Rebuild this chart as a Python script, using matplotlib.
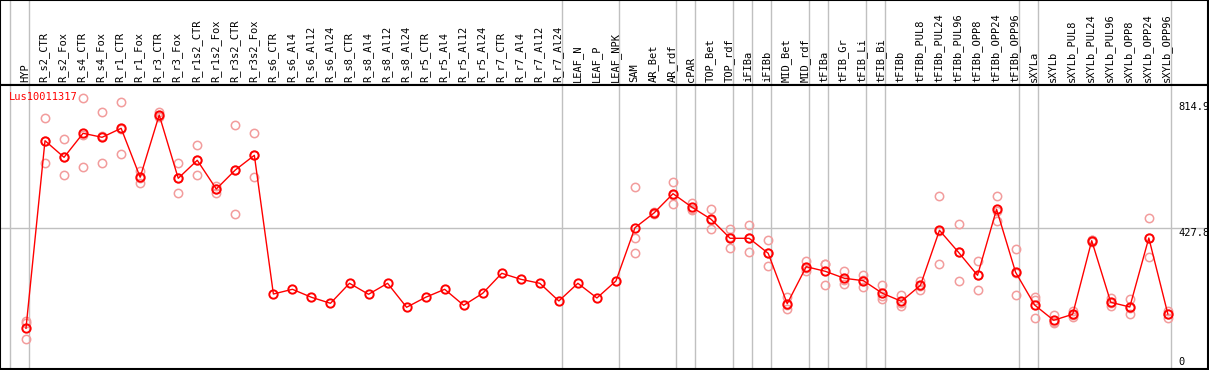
import numpy as np
import matplotlib
matplotlib.use("Agg")
import matplotlib.pyplot as plt

samples = ["HYP", "R_s2_CTR", "R_s2_Fox", "R_s4_CTR", "R_s4_Fox", "R_r1_CTR", "R_r1_Fox",
           "R_r3_CTR", "R_r3_Fox", "R_r1s2_CTR", "R_r1s2_Fox", "R_r3s2_CTR", "R_r3s2_Fox",
           "R_s6_CTR", "R_s6_Al4", "R_s6_Al12", "R_s6_Al24", "R_s8_CTR", "R_s8_Al4", "R_s8_Al12",
           "R_s8_Al24", "R_r5_CTR", "R_r5_Al4", "R_r5_Al12", "R_r5_Al24", "R_r7_CTR", "R_r7_Al4",
           "R_r7_Al12", "R_r7_Al24", "LEAF_N", "LEAF_P", "LEAF_NPK", "SAM", "AR_Bet", "AR_rdf",
           "cPAR", "TOP_Bet", "TOP_rdf", "iFIBa", "iFIBb", "MID_Bet", "MID_rdf", "tFIBa",
           "tFIB_Gr", "tFIB_Li", "tFIB_Bi", "tFIBb", "tFIBb_PUL8", "tFIBb_PUL24", "tFIBb_PUL96",
           "tFIBb_OPP8", "tFIBb_OPP24", "tFIBb_OPP96", "sXYLa", "sXYLb", "sXYLb_PUL8",
           "sXYLb_PUL24", "sXYLb_PUL96", "sXYLb_OPP8", "sXYLb_OPP24", "sXYLb_OPP96"]

# mean expression
mean = [107.6, 706.6, 653.6, 730.3, 717.5, 746.2, 589.8, 788.7, 586.6, 644.1, 552.4, 613.1, 660.0,
        217.1, 232.1, 206.6, 187.4, 251.3, 216.2, 251.3, 174.7, 206.6, 232.1, 181.0, 219.4,
        283.2, 264.1, 251.3, 194.8,
        251.3, 204.4, 258.7,
        428.8, 475.8, 537.4, 494.0, 455.7, 395.0, 395.0, 347.1, 186.2, 304.3, 289.6, 267.3,
        259.6, 219.4, 193.8,
        244.9, 420.5, 350.3, 276.8, 487.6, 286.4, 182.0, 133.2, 152.3, 387.3, 190.6, 175.6,
        396.0, 153.3]

nan = np.nan
no_reps = [nan] * 19  # R_s6_CTR .. LEAF_NPK have no replicates

rep_a = ([130.9, 778.2, 711.1, 843.0, 797.3, 831.2, 609.9, 799.2, 634.5, 692.0, 563.0, 755.8, 730.3]
         + no_reps +
         [557.8, 480.0, 573.8, 506.8, 487.6, 423.7, 437.5, 388.6, 208.5, 322.5, 312.0, 290.6,
          276.8, 244.9, 213.0, 259.6, 530.1, 440.7, 321.5, 530.1, 360.8, 208.5, 149.1, 163.8,
          391.0, 203.4, 201.2, 458.9, 163.8])
rep_b = ([124.5, 634.5, 596.2, 621.7, 634.5, 664.2, 570.6, 782.3, 538.7, 596.2, 540.6, 471.6, 589.8]
         + no_reps +
         [395.0, 472.0, 503.6, 485.4, 425.6, 363.1, 350.3, 305.6, 168.3, 290.6, 244.9, 249.1,
          240.4, 202.1, 179.8, 230.9, 312.0, 258.7, 229.9, 449.3, 213.9, 139.5, 123.6, 144.6,
          384.0, 179.8, 153.3, 334.3, 141.5])
rep_c = ([73.4, 707.1, 653.5, 726.2, 720.7, 743.2, 588.9, 784.6, 586.6, 644.1, 553.6, 611.9, 659.9]
         + no_reps +
         [347.1, 476.0, 534.8, 490.0, 453.9, 398.2, 397.2, 347.1, 181.8, 299.8, 311.9, 262.2,
          261.6, 211.2, 188.6, 244.2, 419.4, 351.5, 279.0, 483.4, 284.5, 198.0, 126.9, 148.5,
          389.0, 188.6, 172.3, 394.8, 154.6])

group_starts = [0, 1, 29, 32, 35, 36, 38, 39, 40, 42, 43, 45, 46, 53, 54, 61]
y_ticks = [0, 427.8, 814.9]
gene = "Lus10011317"

mono = "DejaVu Sans Mono"
grey = "#c0c0c0"
fs = 7.5
x = np.arange(len(samples))

fig = plt.figure(figsize=(12.09, 3.70), dpi=100)
ax_head = fig.add_axes([0, 285 / 370, 1208 / 1209, 85 / 370])
ax = fig.add_axes([0, 1 / 370, 1208 / 1209, 284 / 370], sharex=ax_head)

for a in (ax_head, ax):
    a.set_xticks([])
    a.set_yticks([])
    for s in a.spines.values():
        s.set_color("black")
        s.set_linewidth(1.5)
    for k in group_starts:
        a.axvline(k - 0.84, color=grey, lw=1, zorder=0)

ax.set_xlim(-1.365, 62.11)
ax.set_ylim(-22.4, 884.5)
ax_head.set_ylim(0, 1)

for i, name in enumerate(samples):
    ax_head.text(i - 0.05, 0.03, name, rotation=90, ha="center", va="bottom",
                 family=mono, fontsize=fs)

ax.axhline(427.8, color=grey, lw=1, zorder=0)

for reps in (rep_a, rep_b, rep_c):
    ax.plot(x, reps, ls="none", marker="o", ms=6, mfc="none", mec="#f29c9c", mew=1.1, zorder=2)
ax.plot(x, mean, color="red", lw=1, marker="o", ms=6, mfc="none", mec="red", mew=1.4, zorder=3)

tr = ax.get_yaxis_transform()
ax.text(0.9752, y_ticks[2], "814.9", transform=tr, ha="left", va="center", family=mono, fontsize=fs)
ax.text(0.9752, y_ticks[1], "427.8", transform=tr, ha="left", va="top", family=mono, fontsize=fs)
ax.text(0.9752, y_ticks[0], "0", transform=tr, ha="left", va="center", family=mono, fontsize=fs)

fig.text(9 / 1209, 1 - 97 / 370, gene, color="red", ha="left", va="center",
         family=mono, fontsize=fs)

fig.savefig("out.png", dpi=100)
